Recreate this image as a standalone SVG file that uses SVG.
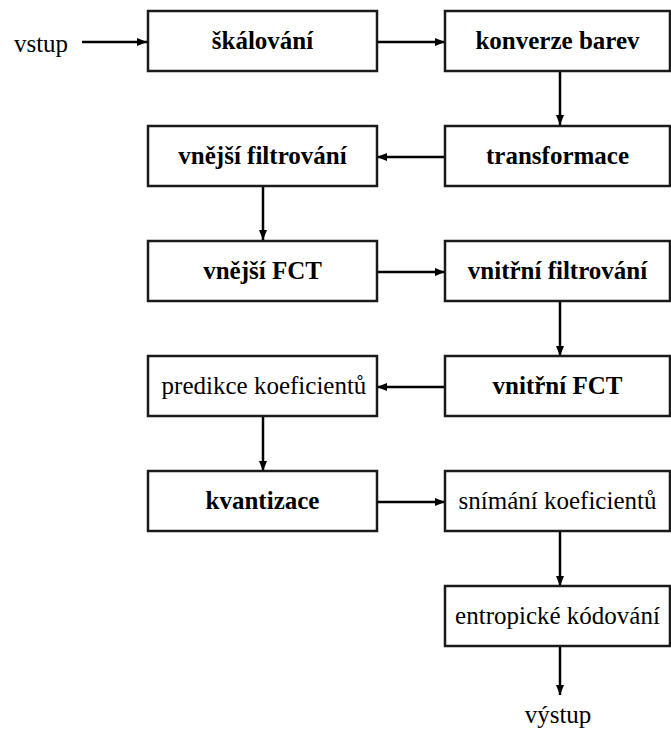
<svg xmlns="http://www.w3.org/2000/svg" width="671" height="736" viewBox="0 0 671 736">
  <style>
    .box { fill: #ffffff; stroke: #1a1a1a; stroke-width: 2.5; }
    .lbl { font-size: 25px; text-anchor: middle; fill: #000000; }
    .b { font-weight: bold; }
    .edge { stroke: #000000; stroke-width: 2.5; fill: none; marker-end: url(#arrow); }
  </style>
  <defs>
    <marker id="arrow" viewBox="0 0 10 8" refX="10" refY="4" markerWidth="10" markerHeight="8" markerUnits="userSpaceOnUse" orient="auto">
      <path d="M0,0 L10,4 L0,8 Z" fill="#000000"/>
    </marker>
  </defs>
  <rect width="671" height="736" fill="#ffffff"/>

  <g id="connectors">
    <line class="edge" x1="82" y1="42" x2="147" y2="42"/>
    <line class="edge" x1="377" y1="42" x2="445" y2="42"/>
    <line class="edge" x1="560" y1="71" x2="560" y2="125"/>
    <line class="edge" x1="445" y1="157" x2="377" y2="157"/>
    <line class="edge" x1="263" y1="186" x2="263" y2="240"/>
    <line class="edge" x1="377" y1="272" x2="445" y2="272"/>
    <line class="edge" x1="560" y1="301" x2="560" y2="356"/>
    <line class="edge" x1="445" y1="387" x2="377" y2="387"/>
    <line class="edge" x1="263" y1="416" x2="263" y2="471"/>
    <line class="edge" x1="377" y1="502" x2="445" y2="502"/>
    <line class="edge" x1="560" y1="531" x2="560" y2="586"/>
    <line class="edge" x1="560" y1="646" x2="560" y2="695"/>
  </g>

  <g font-family="'Liberation Serif', 'Times New Roman', 'DejaVu Serif', serif">
    <text id="vstup" class="lbl" x="41" y="52">vstup</text>

    <g id="skalovani">
      <rect class="box" x="148" y="11" width="229" height="60"/>
      <text class="lbl b" x="262.5" y="49">škálování</text>
    </g>
    <g id="konverze-barev">
      <rect class="box" x="445" y="11" width="225" height="60"/>
      <text class="lbl b" x="557.5" y="49">konverze barev</text>
    </g>
    <g id="vnejsi-filtrovani">
      <rect class="box" x="148" y="126" width="229" height="60"/>
      <text class="lbl b" x="262.5" y="164">vnější filtrování</text>
    </g>
    <g id="transformace">
      <rect class="box" x="445" y="126" width="225" height="60"/>
      <text class="lbl b" x="557.5" y="164">transformace</text>
    </g>
    <g id="vnejsi-fct">
      <rect class="box" x="148" y="241" width="229" height="60"/>
      <text class="lbl b" x="262.5" y="279">vnější FCT</text>
    </g>
    <g id="vnitrni-filtrovani">
      <rect class="box" x="445" y="241" width="225" height="60"/>
      <text class="lbl b" x="557.5" y="279">vnitřní filtrování</text>
    </g>
    <g id="predikce-koeficientu">
      <rect class="box" x="148" y="356" width="229" height="60"/>
      <text class="lbl" x="264" y="394">predikce koeficientů</text>
    </g>
    <g id="vnitrni-fct">
      <rect class="box" x="445" y="356" width="225" height="60"/>
      <text class="lbl b" x="557.5" y="394">vnitřní FCT</text>
    </g>
    <g id="kvantizace">
      <rect class="box" x="148" y="471" width="229" height="60"/>
      <text class="lbl b" x="262.5" y="509">kvantizace</text>
    </g>
    <g id="snimani-koeficientu">
      <rect class="box" x="445" y="471" width="225" height="60"/>
      <text class="lbl" x="557.5" y="509">snímání koeficientů</text>
    </g>
    <g id="entropicke-kodovani">
      <rect class="box" x="445" y="586" width="225" height="60"/>
      <text class="lbl" x="557.5" y="624">entropické kódování</text>
    </g>

    <text id="vystup" class="lbl" x="558" y="723">výstup</text>
  </g>
</svg>
